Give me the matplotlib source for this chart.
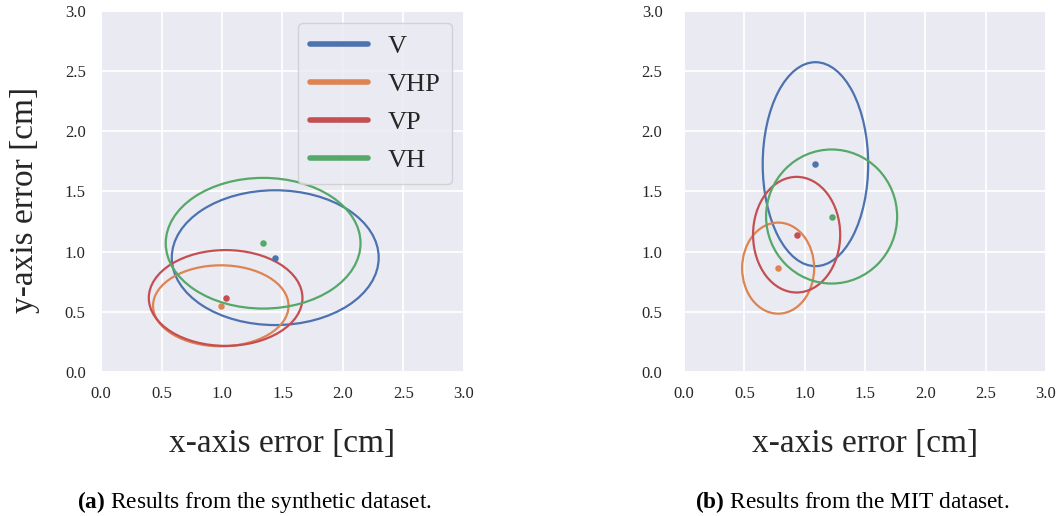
import matplotlib
matplotlib.use("Agg")
import matplotlib.pyplot as plt
import seaborn as sns
from matplotlib.patches import Ellipse
from matplotlib.lines import Line2D

methods = ["V", "VHP", "VP", "VH"]
colors = ["#4C72B0", "#DD8452", "#C44E52", "#55A868"]

# synthetic dataset: mean error (dot) and ellipse size (full width / height)
syn_x = [1.44, 0.99, 1.03, 1.34]
syn_y = [0.95, 0.55, 0.615, 1.07]
syn_w = [1.71, 1.12, 1.27, 1.61]
syn_h = [1.12, 0.673, 0.796, 1.086]

# MIT dataset
mit_x = [1.089, 0.78, 0.933, 1.223]
mit_y = [1.727, 0.863, 1.141, 1.292]
mit_w = [0.874, 0.597, 0.722, 1.086]
mit_h = [1.695, 0.757, 0.961, 1.114]

ticks = [0.0, 0.5, 1.0, 1.5, 2.0, 2.5, 3.0]
captions = [r"$\mathbf{(a)}$ Results from the synthetic dataset.",
            r"$\mathbf{(b)}$ Results from the MIT dataset."]

sns.set_theme(style="darkgrid")
plt.rcParams["font.family"] = ["Liberation Serif", "DejaVu Serif"]
plt.rcParams["mathtext.fontset"] = "custom"
plt.rcParams["mathtext.rm"] = "Liberation Serif"
plt.rcParams["mathtext.bf"] = "Liberation Serif:bold"


def draw_panel(ax, xs, ys, ws, hs, ypad):
    for x, y, w, h, c in zip(xs, ys, ws, hs, colors):
        ax.add_patch(Ellipse((x, y), w, h, fill=False, edgecolor=c, linewidth=1.6))
        ax.scatter([x], [y], s=22, color=c, zorder=3, linewidths=0)
    ax.set_xlim(0, 3)
    ax.set_ylim(0, 3)
    ax.set_xticks(ticks)
    ax.set_yticks(ticks)
    ax.set_xticklabels([f"{t:.1f}" for t in ticks])
    ax.set_yticklabels([f"{t:.1f}" for t in ticks])
    ax.tick_params(axis="x", length=0, pad=10, labelsize=12, colors="#262626")
    ax.tick_params(axis="y", length=0, pad=ypad, labelsize=12, colors="#262626")
    ax.grid(True, color="white", linewidth=1.3)
    ax.set_xlabel("x-axis error [cm]", fontsize=24, va="baseline", color="#262626")
    ax.xaxis.set_label_coords(0.5, -0.222)


fig = plt.figure(figsize=(10.61, 5.16), dpi=100)
ax1 = fig.add_axes([0.0952, 0.2791, 0.3421, 0.6996])
ax2 = fig.add_axes([0.6447, 0.2791, 0.3412, 0.6996])

draw_panel(ax1, syn_x, syn_y, syn_w, syn_h, 11)
draw_panel(ax2, mit_x, mit_y, mit_w, mit_h, 15.5)

ax1.set_ylabel("y-axis error [cm]", fontsize=24, ha="center", va="center",
               color="#262626")
ax1.yaxis.set_label_coords(-0.21, 0.476)

handles = [Line2D([0], [0], color=c, linewidth=4, solid_capstyle="round") for c in colors]
ax1.legend(handles, methods, loc="upper right", fontsize=19, borderaxespad=0.45,
           handlelength=2.2, handletextpad=0.75, labelspacing=0.55, borderpad=0.45,
           frameon=True, edgecolor="#cccccc", framealpha=0.8)

# sub-figure captions
for xc, cap in zip([0.2394, 0.803], captions):
    fig.text(xc, 8 / 516, cap, fontsize=16.8, ha="center", va="baseline",
             color="black")

fig.savefig("out.png", dpi=100)
